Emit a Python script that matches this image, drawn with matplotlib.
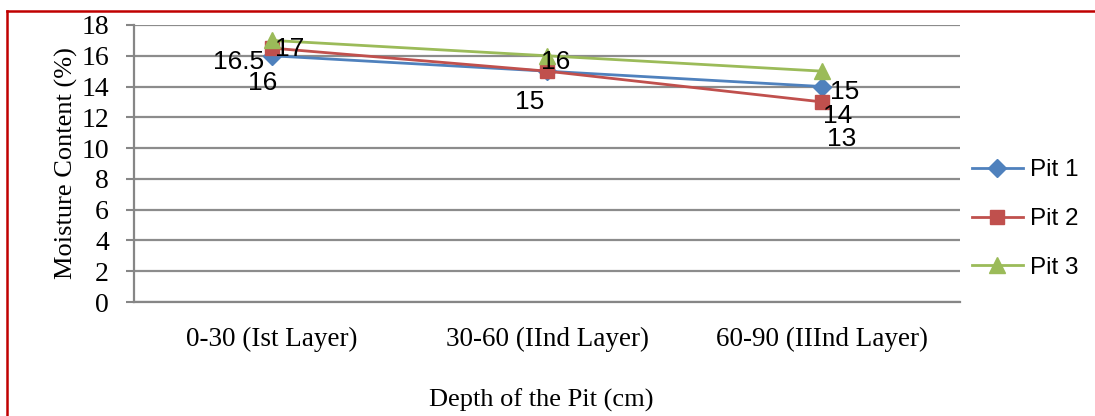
import matplotlib.pyplot as plt
from matplotlib.lines import Line2D

# =========================
# DATA
# =========================

depths = ["0-30 (Ist Layer)", "30-60 (IInd Layer)", "60-90 (IIInd Layer)"]
pit_names = ["Pit 1", "Pit 2", "Pit 3"]
pit1 = [16, 15, 14]
pit2 = [16.5, 15, 13]
pit3 = [17, 16, 15]
y_ticks = [0, 2, 4, 6, 8, 10, 12, 14, 16, 18]

# =========================
# STYLE
# =========================

colors = ["#4F81BD", "#C0504D", "#9BBB59"]
markers = ["D", "s", "^"]
marker_sizes = [9, 10, 11]
# label offsets in pixels (dx, dy) for each point, None = label hidden
label_offsets = [
    [(-9, -27), (-17, -31), (15, -29)],
    [(-33, -14), None, (19, -37)],
    [(18, -9), (9, -6), (22, -21)],
]

serif = "Liberation Serif"
sans = "Liberation Sans"

fig = plt.figure(figsize=(10.95, 4.16), dpi=100)
ax = fig.add_axes([134 / 1095, 1 - 302 / 416, 826 / 1095, 277 / 416])

x = list(range(len(depths)))
series = [pit1, pit2, pit3]
for vals, name, c, m, ms, offs in zip(series, pit_names, colors, markers, marker_sizes, label_offsets):
    ax.plot(x, vals, color=c, lw=2.0, marker=m, markersize=ms, label=name, zorder=3)
    for xi, v, off in zip(x, vals, offs):
        if off is None:
            continue
        ax.annotate(f"{v:g}", (xi, v), xytext=off, textcoords="offset pixels",
                    ha="center", va="center", fontsize=19, family=sans, zorder=4)

ax.set_xlim(-0.5, len(depths) - 0.5)
ax.set_ylim(0, 18)
ax.set_yticks(y_ticks)
ax.set_xticks(x)
ax.set_xticklabels(depths, family=serif, fontsize=19.5)
ax.set_yticklabels([str(t) for t in y_ticks], family=serif, fontsize=20)
ax.tick_params(axis="x", length=0, pad=18)
ax.tick_params(axis="y", length=6, color="#868686", width=1.5, pad=12)
ax.grid(axis="y", color="#8C8C8C", lw=1.6)
ax.set_axisbelow(True)
for s in ["top", "right"]:
    ax.spines[s].set_visible(False)
for s in ["left", "bottom"]:
    ax.spines[s].set_color("#868686")
    ax.spines[s].set_linewidth(1.6)

ax.set_ylabel("Moisture Content (%)", family=serif, fontsize=19, labelpad=2)
fig.text(541 / 1095, 1 - 400 / 416, "Depth of the Pit (cm)", family=serif,
         fontsize=19, ha="center", va="center")

leg = ax.legend(loc="center left", bbox_to_anchor=(962 / 1095, 1 - 219 / 416),
                bbox_transform=fig.transFigure, frameon=False,
                prop={"family": sans, "size": 17.5}, handlelength=2.1,
                labelspacing=1.1, handletextpad=0.3, borderaxespad=0)

# red frame around the figure
fig.add_artist(Line2D([7 / 1095, 7 / 1095], [0, 1 - 11 / 416], color="#C00000",
                      lw=1.8, transform=fig.transFigure))
fig.add_artist(Line2D([7 / 1095, 1], [1 - 11 / 416, 1 - 11 / 416], color="#C00000",
                      lw=1.8, transform=fig.transFigure))

fig.savefig("out.png", dpi=100)
